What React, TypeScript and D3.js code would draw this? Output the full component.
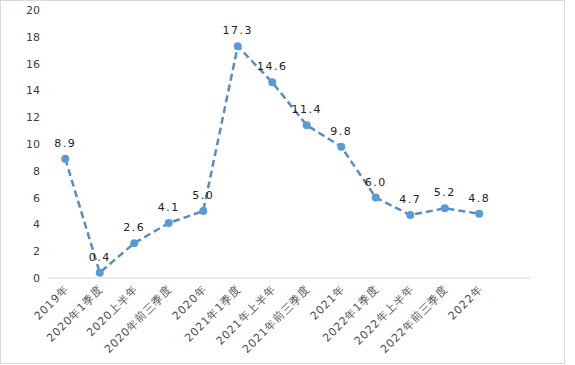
import { useEffect, useRef } from 'react';
import * as d3 from 'd3';

const categories = [
  '2019年', '2020年1季度', '2020上半年', '2020年前三季度', '2020年',
  '2021年1季度', '2021年上半年', '2021年前三季度', '2021年',
  '2022年1季度', '2022年上半年', '2022年前三季度', '2022年',
];
const values = [8.9, 0.4, 2.6, 4.1, 5.0, 17.3, 14.6, 11.4, 9.8, 6.0, 4.7, 5.2, 4.8];
const yTicks = [0, 2, 4, 6, 8, 10, 12, 14, 16, 18, 20];

const App = () => {
  const ref = useRef<SVGSVGElement>(null);

  useEffect(() => {
    const width = 575;
    const height = 365;
    const svg = d3.select(ref.current);
    svg.selectAll('*').remove();

    const font = 'SimSun, "DejaVu Sans", sans-serif';

    svg.append('rect')
      .attr('x', 0.5).attr('y', 0.5)
      .attr('width', 564).attr('height', 363)
      .attr('fill', '#fff')
      .attr('stroke', '#d9d9d9');

    // 14 slots, last one empty, like the spreadsheet plot area
    const xScale = d3.scaleLinear().domain([-0.5, 13.5]).range([48, 531]);
    const yScale = d3.scaleLinear().domain([0, 20]).range([278, 10]);

    svg.append('line')
      .attr('x1', xScale(-0.5)).attr('x2', xScale(13.5))
      .attr('y1', yScale(0)).attr('y2', yScale(0))
      .attr('stroke', '#d9d9d9');

    svg.append('g')
      .selectAll('text')
      .data(yTicks)
      .join('text')
      .attr('x', 40)
      .attr('y', d => yScale(d) + 4)
      .attr('text-anchor', 'end')
      .attr('font-family', font)
      .attr('font-size', 11)
      .attr('fill', '#404040')
      .text(d => d);

    svg.append('g')
      .selectAll('text')
      .data(categories)
      .join('text')
      .attr('transform', (d, i) => `translate(${xScale(i) + 4},${yScale(0) + 12}) rotate(-45)`)
      .attr('text-anchor', 'end')
      .attr('font-family', font)
      .attr('font-size', 11)
      .attr('letter-spacing', 0.8)
      .attr('fill', '#505050')
      .text(d => d);

    const line = d3.line<number>()
      .x((d, i) => xScale(i))
      .y(d => yScale(d));

    svg.append('path')
      .datum(values)
      .attr('fill', 'none')
      .attr('stroke', '#5a8cc0')
      .attr('stroke-width', 2.5)
      .attr('stroke-dasharray', '7,4')
      .attr('d', line);

    svg.append('g')
      .selectAll('circle')
      .data(values)
      .join('circle')
      .attr('cx', (d, i) => xScale(i))
      .attr('cy', d => yScale(d))
      .attr('r', 4)
      .attr('fill', '#5b9bd5');

    svg.append('g')
      .selectAll('text')
      .data(values)
      .join('text')
      .attr('x', (d, i) => xScale(i))
      .attr('y', d => yScale(d) - 12)
      .attr('text-anchor', 'middle')
      .attr('font-family', font)
      .attr('font-size', 11)
      .attr('letter-spacing', 1.5)
      .attr('fill', '#222')
      .text(d => d.toFixed(1));

    svg.attr('width', width).attr('height', height);
  }, []);

  return (
    <svg ref={ref} style={{ position: 'absolute', left: 0, top: 0 }} />
  );
};

export default App;
